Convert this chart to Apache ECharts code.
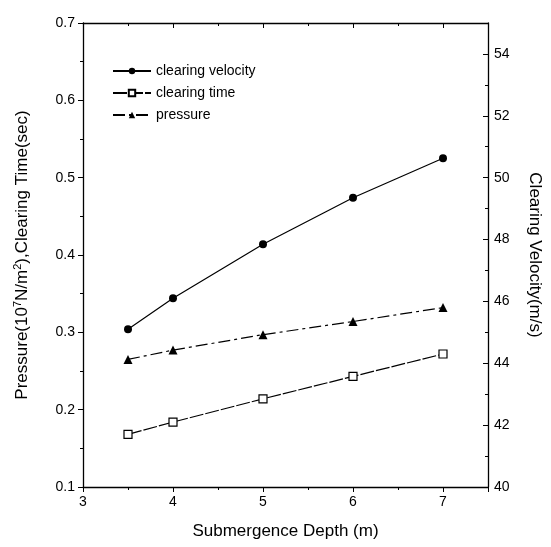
<!DOCTYPE html>
<html><head><meta charset="utf-8">
<script src="https://cdn.jsdelivr.net/npm/echarts@6/dist/echarts.min.js"></script>
<style>html,body{margin:0;padding:0;background:#fff}#c{width:551px;height:547px}</style>
</head><body><div id="c"></div>
<script>
const depths = [3.5, 4, 5, 6, 7];
const clearingVelocity = [45.1, 46.1, 47.85, 49.35, 50.63];
const clearingTime = [0.168, 0.184, 0.214, 0.243, 0.272];
const pressure = [0.265, 0.277, 0.297, 0.314, 0.332];

const font = 'Liberation Sans, Arial, sans-serif';
const pair = (xs, ys) => xs.map((x, i) => [x, ys[i]]);
const chart = echarts.init(document.getElementById('c'));
const axisCommon = {
  axisLine: {show: true, lineStyle: {color: '#000', width: 1.3}},
  axisTick: {show: true, length: 5, lineStyle: {color: '#000'}},
  minorTick: {show: true, splitNumber: 2, length: 3, lineStyle: {color: '#000'}},
  splitLine: {show: false},
  axisLabel: {color: '#000', fontFamily: font, fontSize: 14}
};
chart.setOption({
  animation: false,
  backgroundColor: '#fff',
  grid: {left: 83, right: 59, top: 23, bottom: 60},
  legend: {
    orient: 'vertical', left: 112, top: 64, padding: 0, itemWidth: 38, itemHeight: 8, itemGap: 8,
    textStyle: {color: '#000', fontFamily: font, fontSize: 14},
    data: ['clearing velocity', 'clearing time', 'pressure']
  },
  xAxis: [
    Object.assign({}, axisCommon, {
      type: 'value', min: 3, max: 7.5, interval: 1, position: 'bottom',
      axisLabel: Object.assign({}, axisCommon.axisLabel, {showMaxLabel: false, margin: 8}),
      name: 'Submergence Depth (m)', nameLocation: 'middle', nameGap: 36,
      nameTextStyle: {color: '#000', fontFamily: font, fontSize: 17}
    }),
    Object.assign({}, axisCommon, {
      type: 'value', min: 3, max: 7.5, interval: 1, position: 'top',
      axisTick: {show: true, inside: true, length: 5, lineStyle: {color: '#000'}},
      minorTick: {show: true, splitNumber: 2, length: 3, lineStyle: {color: '#000'}},
      axisLabel: {show: false}
    })
  ],
  yAxis: [
    Object.assign({}, axisCommon, {
      type: 'value', min: 0.1, max: 0.7, interval: 0.1, position: 'left',
      axisLabel: Object.assign({}, axisCommon.axisLabel, {formatter: v => v.toFixed(1), margin: 8}),
      name: 'Pressure(10{s|7}N/m{s|2}),Clearing Time(sec)', nameLocation: 'middle', nameGap: 50,
      nameTextStyle: {color: '#000', fontFamily: font, fontSize: 17,
        rich: {s: {fontSize: 11, fontFamily: font, color: '#000', padding: [0,0,10,0]}}}
    }),
    Object.assign({}, axisCommon, {
      type: 'value', min: 40, max: 55, interval: 2, position: 'right',
      axisTick: {show: true, inside: true, length: 5, lineStyle: {color: '#000'}},
      minorTick: {show: true, splitNumber: 2, length: 3, lineStyle: {color: '#000'}},
      axisLabel: Object.assign({}, axisCommon.axisLabel, {showMaxLabel: false, margin: 6}),
      name: 'Clearing Velocity(m/s)', nameLocation: 'middle', nameGap: 38, nameRotate: -90,
      nameTextStyle: {color: '#000', fontFamily: font, fontSize: 17}
    })
  ],
  series: [
    {name: 'clearing velocity', type: 'line', yAxisIndex: 1, data: pair(depths, clearingVelocity),
      symbol: 'circle', symbolSize: 8, itemStyle: {color: '#000'}, lineStyle: {color: '#000', width: 1.2}},
    {name: 'clearing time', type: 'line', yAxisIndex: 0, data: pair(depths, clearingTime),
      symbol: 'rect', symbolSize: 8, itemStyle: {color: '#fff', borderColor: '#000', borderWidth: 1.2},
      lineStyle: {color: '#000', width: 1.2, type: [14, 2]}},
    {name: 'pressure', type: 'line', yAxisIndex: 0, data: pair(depths, pressure),
      symbol: 'triangle', symbolSize: 9, itemStyle: {color: '#000'},
      lineStyle: {color: '#000', width: 1.2, type: [12, 4, 3, 4]}}
  ]
});
</script></body></html>
